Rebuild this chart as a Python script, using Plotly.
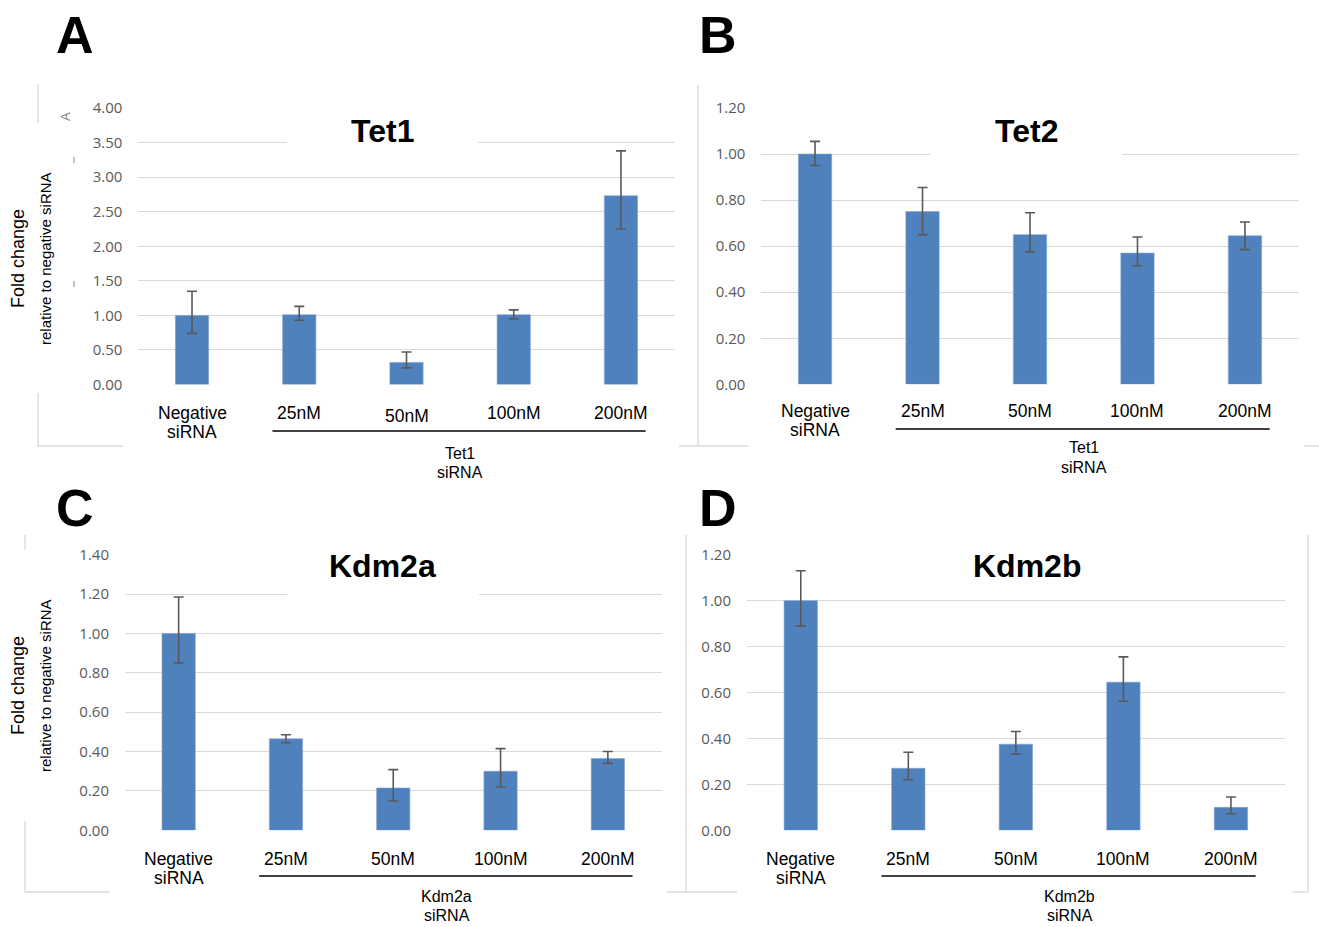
import plotly.graph_objects as go

W, H = 1319, 927

# ---- data -------------------------------------------------------------
categories = ["Negative<br>siRNA", "25nM", "50nM", "100nM", "200nM"]

tet1_mean = [1.00, 1.01, 0.32, 1.01, 2.73]
tet1_err_plus = [0.35, 0.12, 0.15, 0.07, 0.65]
tet1_err_minus = [0.26, 0.08, 0.08, 0.06, 0.48]

tet2_mean = [1.00, 0.75, 0.65, 0.57, 0.645]
tet2_err_plus = [0.055, 0.105, 0.095, 0.07, 0.06]
tet2_err_minus = [0.05, 0.10, 0.075, 0.055, 0.06]

kdm2a_mean = [1.00, 0.465, 0.215, 0.30, 0.365]
kdm2a_err_plus = [0.185, 0.02, 0.093, 0.115, 0.035]
kdm2a_err_minus = [0.15, 0.02, 0.066, 0.08, 0.025]

kdm2b_mean = [1.00, 0.27, 0.375, 0.645, 0.10]
kdm2b_err_plus = [0.13, 0.07, 0.055, 0.11, 0.045]
kdm2b_err_minus = [0.11, 0.05, 0.043, 0.083, 0.028]

y_title = "Fold change"
y_subtitle = "relative to negative siRNA"


def px(x):
    return x / W


def py(y):
    return 1 - y / H


BAR = "#4f81bd"
GRID = "#d9d9d9"
FRAME = "#d9d9d9"
ERR = "#595959"
TICK = "#595959"
FONT = "Liberation Sans, Arial, sans-serif"
LINE_STEP = 19  # spacing between the two lines of a stacked label

# one entry per panel: data, axis ranges and pixel placement of its pieces
panels = [
    dict(ax="", title="Tet1", group="Tet1<br>siRNA", mean=tet1_mean,
         ep=tet1_err_plus, em=tet1_err_minus, ymax=4.0, dtick=0.5,
         xd=(138.4, 674.6), yd=(108, 384.5), row=413, row_dy=[0, 0, 3, 0, 0],
         group_y=453, line_y=431, tc=(382, 131), mask=(287, 478, 98, 162),
         letter="A", lp=(75, 35)),
    dict(ax="2", title="Tet2", group="Tet1<br>siRNA", mean=tet2_mean,
         ep=tet2_err_plus, em=tet2_err_minus, ymax=1.2, dtick=0.2,
         xd=(761.3, 1298.7), yd=(108, 384.3), row=411, row_dy=[0] * 5,
         group_y=448, line_y=429, tc=(1026, 131), mask=(930, 1122, 98, 168),
         letter="B", lp=(718, 35)),
    dict(ax="3", title="Kdm2a", group="Kdm2a<br>siRNA", mean=kdm2a_mean,
         ep=kdm2a_err_plus, em=kdm2a_err_minus, ymax=1.4, dtick=0.2,
         xd=(125, 661.5), yd=(554.7, 830.3), row=859, row_dy=[0] * 5,
         group_y=896, line_y=876, tc=(382, 566), mask=(287, 479, 545, 605),
         letter="C", lp=(75, 508)),
    dict(ax="4", title="Kdm2b", group="Kdm2b<br>siRNA", mean=kdm2b_mean,
         ep=kdm2b_err_plus, em=kdm2b_err_minus, ymax=1.2, dtick=0.2,
         xd=(747, 1284.7), yd=(554.7, 830.3), row=859, row_dy=[0] * 5,
         group_y=896, line_y=876, tc=(1027, 566), mask=(929, 1122, 545, 588),
         letter="D", lp=(718, 508)),
]

fig = go.Figure()
annotations = []
shapes = []
layout_axes = {}


def stacked_label(x, xref, text, top_px, size):
    """Place each <br>-separated line of a label as its own annotation."""
    for i, part in enumerate(text.split("<br>")):
        annotations.append(dict(
            x=x, y=py(top_px + i * LINE_STEP), xref=xref, yref="paper",
            text=part, showarrow=False, xanchor="center", yanchor="middle",
            font=dict(family=FONT, size=size, color="black"),
        ))


for p in panels:
    xa = "x" + p["ax"]
    ya = "y" + p["ax"]
    fig.add_trace(go.Bar(
        x=categories, y=p["mean"], xaxis=xa, yaxis=ya,
        marker=dict(color=BAR, line=dict(color="#7fa3d1", width=0.6)),
        error_y=dict(type="data", symmetric=False, array=p["ep"],
                     arrayminus=p["em"], color=ERR, thickness=1.6, width=5),
        showlegend=False, hoverinfo="skip",
    ))
    layout_axes["xaxis" + p["ax"]] = dict(
        domain=[px(p["xd"][0]), px(p["xd"][1])], anchor=ya,
        type="category", range=[-0.5, 4.5], showticklabels=False,
        showgrid=False, zeroline=False, showline=False, ticks="",
        automargin=False, fixedrange=True,
    )
    layout_axes["yaxis" + p["ax"]] = dict(
        domain=[py(p["yd"][1]), py(p["yd"][0])], anchor=xa,
        range=[0, p["ymax"]], dtick=p["dtick"], tick0=0, tickformat=".2f",
        showgrid=True, gridcolor=GRID, gridwidth=1.3, zeroline=False,
        showline=False, ticks="", ticklabelstandoff=15,
        tickfont=dict(family="Open Sans, sans-serif", size=15, color=TICK),
        automargin=False, fixedrange=True,
    )

    # category labels below each bar
    for c, dy in zip(categories, p["row_dy"]):
        stacked_label(c, xa, c, p["row"] + dy, 17.5)
    # group bracket line + label
    shapes.append(dict(type="line", xref=xa, yref="paper",
                       x0=0.75, x1=4.23, y0=py(p["line_y"]), y1=py(p["line_y"]),
                       line=dict(color="black", width=1.3)))
    stacked_label(2.5, xa, p["group"], p["group_y"], 16)
    # white box behind the chart title
    m = p["mask"]
    shapes.append(dict(type="rect", xref="paper", yref="paper",
                       x0=px(m[0]), x1=px(m[1]), y0=py(m[3]), y1=py(m[2]),
                       fillcolor="white", line=dict(width=0), layer="above"))
    annotations.append(dict(
        x=px(p["tc"][0]), y=py(p["tc"][1]), xref="paper", yref="paper",
        text="<b>%s</b>" % p["title"], showarrow=False,
        xanchor="center", yanchor="middle",
        font=dict(family=FONT, size=32, color="black"),
    ))
    # panel letter
    annotations.append(dict(
        x=px(p["lp"][0]), y=py(p["lp"][1]), xref="paper", yref="paper",
        text="<b>%s</b>" % p["letter"], showarrow=False,
        xanchor="center", yanchor="middle",
        font=dict(family=FONT, size=52, color="black"),
    ))

# y-axis titles for the left column
for cy in (259, 686):
    annotations.append(dict(
        x=px(18), y=py(cy), xref="paper", yref="paper", text=y_title,
        showarrow=False, textangle=-90, xanchor="center", yanchor="middle",
        font=dict(family=FONT, size=18, color="black"),
    ))
    annotations.append(dict(
        x=px(45), y=py(cy), xref="paper", yref="paper", text=y_subtitle,
        showarrow=False, textangle=-90, xanchor="center", yanchor="middle",
        font=dict(family=FONT, size=15, color="black"),
    ))

# faint leftover glyphs at the left of panel A
annotations.append(dict(
    x=px(66), y=py(117), xref="paper", yref="paper", text="A",
    showarrow=False, textangle=-90, xanchor="center", yanchor="middle",
    font=dict(family=FONT, size=13, color="#7f7f7f"),
))
for yy in (160, 284):
    shapes.append(dict(type="line", xref="paper", yref="paper",
                       x0=px(74), x1=px(74), y0=py(yy - 3), y1=py(yy + 3),
                       line=dict(color="#8c8c8c", width=1)))

# light frame fragments around the panels
frame_segments = [
    # panel A
    (38, 84, 38, 123), (38, 393, 38, 446), (37, 446, 123, 446),
    # panel B
    (698, 85, 698, 446), (679, 446, 748, 446), (1304, 446, 1319, 446),
    # panel C
    (25, 535, 25, 550), (25, 821, 25, 892), (25, 892, 110, 892),
    # panel D
    (686, 535, 686, 892), (667, 892, 737, 892), (1292, 892, 1308, 892),
    (1308, 535, 1308, 892),
]
for x0, y0, x1, y1 in frame_segments:
    shapes.append(dict(type="line", xref="paper", yref="paper",
                       x0=px(x0), x1=px(x1), y0=py(y0), y1=py(y1),
                       line=dict(color=FRAME, width=1.3)))

fig.update_layout(
    width=W, height=H,
    margin=dict(l=0, r=0, t=0, b=0, pad=0, autoexpand=False),
    paper_bgcolor="white", plot_bgcolor="white",
    bargap=0.69,
    annotations=annotations,
    shapes=shapes,
    **layout_axes,
)

fig.write_html("out.html", include_plotlyjs=True, full_html=True,
               config={"displayModeBar": False})
